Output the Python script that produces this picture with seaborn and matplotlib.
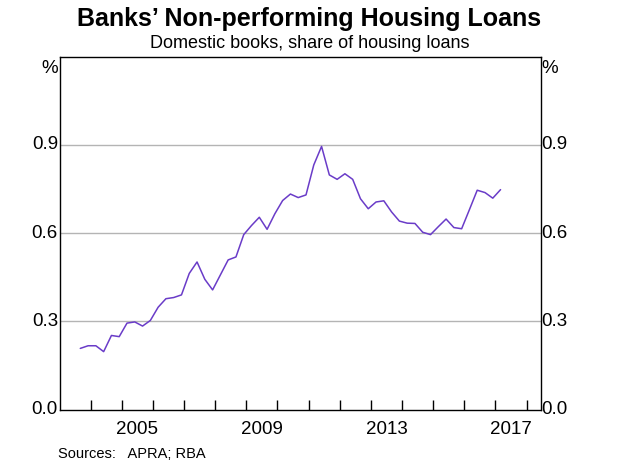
import matplotlib as mpl
import matplotlib.pyplot as plt
import seaborn as sns
import pandas as pd

mpl.use('Agg')

# quarterly, Sep 2003 to Mar 2017
quarters = pd.period_range('2003Q3', '2017Q1', freq='Q')
npl_share = [
    0.208, 0.217, 0.217, 0.197, 0.252, 0.248, 0.294, 0.298, 0.284, 0.303,
    0.348, 0.377, 0.381, 0.390, 0.463, 0.502, 0.443, 0.407, 0.458, 0.509,
    0.519, 0.595, 0.626, 0.654, 0.613, 0.666, 0.711, 0.733, 0.721, 0.730,
    0.832, 0.895, 0.798, 0.783, 0.802, 0.783, 0.717, 0.683, 0.706, 0.710,
    0.672, 0.641, 0.634, 0.633, 0.603, 0.595, 0.622, 0.648, 0.619, 0.615,
    0.680, 0.746, 0.738, 0.719, 0.748,
]
year_labels = [2005, 2009, 2013, 2017]
y_ticks = [0.0, 0.3, 0.6, 0.9]

df = pd.DataFrame({
    'year': [q.year + (q.quarter * 3 - 1) / 12 for q in quarters],
    'share': npl_share,
})

sns.set_style("white")
plt.rcParams['font.family'] = ['Liberation Sans', 'DejaVu Sans']
plt.rcParams['text.color'] = 'black'

fig = plt.figure(figsize=(6.19, 4.67), dpi=100)
ax = fig.add_axes([0.0962, 0.123, 0.777, 0.7555])

for v in y_ticks[1:]:
    ax.axhline(v, color='#b4b4b4', lw=1, zorder=0)

sns.lineplot(data=df, x='year', y='share', ax=ax, color='#6a3cc8', lw=1.1)

x0, x1 = 2003.0, 2018.45
ax.set_xlim(x0, x1)
ax.set_ylim(0, 1.2)
ax.set_xlabel('')
ax.set_ylabel('')

# year ticks at year boundaries, labels centred mid-year
ax.set_xticks(range(2004, 2019))
ax.set_xticklabels([])
ax.tick_params(axis='x', direction='in', length=7, width=1, color='black', bottom=True)
for yr in year_labels:
    ax.text(yr + 0.5, -0.04, str(yr), ha='center', va='top', fontsize=13.5, color='black')

ax.set_yticks([])
for v in y_ticks:
    ax.text(x0 - 0.05, v, f'{v:.1f}', ha='right', va='center', fontsize=13.5, color='black')
    ax.text(x1 + 0.02, v, f'{v:.1f}', ha='left', va='center', fontsize=13.5, color='black')
ax.text(x0 - 0.05, 1.19, '%', ha='right', va='top', fontsize=13.5, color='black')
ax.text(x1 + 0.02, 1.19, '%', ha='left', va='top', fontsize=13.5, color='black')

for s in ax.spines.values():
    s.set_color('black')
    s.set_linewidth(1)

fig.text(0.5, 0.985, 'Banks\u2019 Non-performing Housing Loans', ha='center', va='top',
         fontsize=18, fontweight='bold', color='black')
fig.text(0.5, 0.925, 'Domestic books, share of housing loans', ha='center', va='top',
         fontsize=13, color='black')
fig.text(0.094, 0.012, 'Sources:   APRA; RBA', ha='left', va='bottom', fontsize=10.5,
         color='black')

fig.savefig('out.png', dpi=100)
